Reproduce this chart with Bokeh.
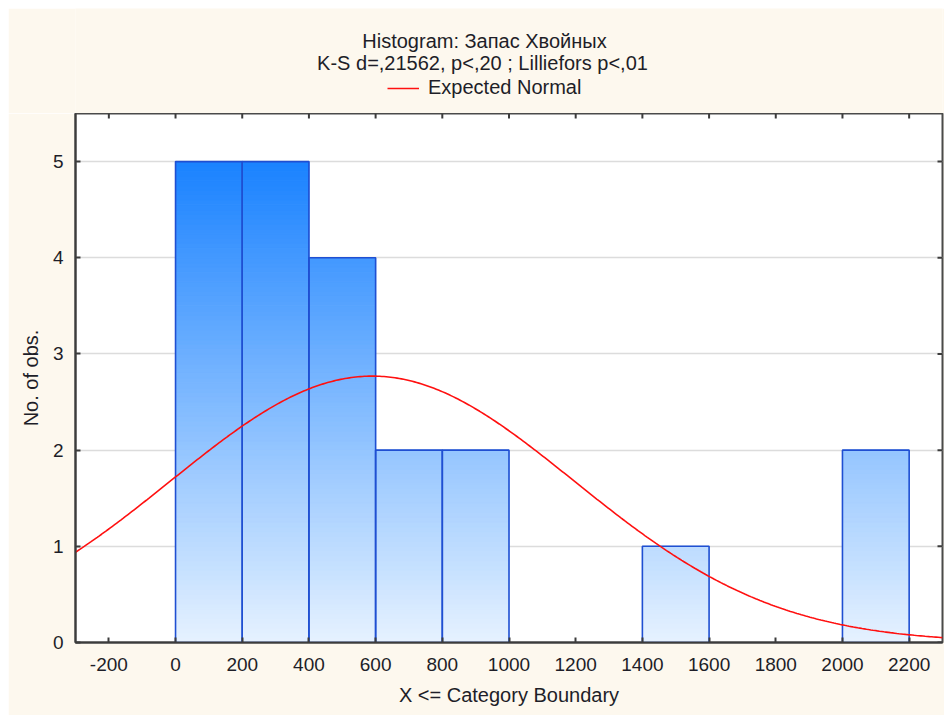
import numpy as np
from bokeh.plotting import figure
from bokeh.layouts import column
from bokeh.models import FixedTicker, Legend, LegendItem, Range1d, Label
from bokeh.embed import file_html
from bokeh.resources import INLINE

# ---------------- data ----------------
bin_left = [0, 200, 400, 600, 800, 1000, 1200, 1400, 1600, 1800, 2000]
bin_right = [200, 400, 600, 800, 1000, 1200, 1400, 1600, 1800, 2000, 2200]
counts = [5, 5, 4, 2, 2, 0, 0, 1, 0, 0, 2]

# Expected normal parameters
norm_mean = 590.0
norm_sd = 605.0
n_obs = 21
bin_width = 200.0

x_min, x_max = -300, 2300
y_min, y_max = 0, 5.5
x_ticks = [-200, 0, 200, 400, 600, 800, 1000, 1200, 1400, 1600, 1800, 2000, 2200]
x_tick_labels = ["-200", "0", "200", "400", "600", "800", "1000", "1200", "1400",
                 "1600", "1800", "2000", "2200"]
y_ticks = [0, 1, 2, 3, 4, 5]

title_1 = "Histogram: Запас Хвойных"
title_2 = "K-S d=,21562, p<,20 ; Lilliefors p<,01"
legend_label = "Expected Normal"
x_label = "X <= Category Boundary"
y_label = "No. of obs."

# ---------------- style ----------------
FONT = "Liberation Sans"
CREAM = "#fdf8ee"
TXT = "#1e1e28"
AXC = "#3c3c3c"
CURVE_COLOR = "#ff1010"
bottom_rgb = np.array([230, 242, 255])
top_rgb = np.array([26, 130, 255])
grad_top_value = 5.0

W, HEAD_H, MAIN_H = 936, 105, 602

# expected normal curve values
xc = np.linspace(x_min, x_max, 400)
yc = n_obs * bin_width / (norm_sd * np.sqrt(2 * np.pi)) * np.exp(-0.5 * ((xc - norm_mean) / norm_sd) ** 2)

# ---------------- header (titles + legend) ----------------
# header frame is aligned with the main frame; x range in page pixels of that frame
head = figure(width=W, height=HEAD_H, output_backend="svg", toolbar_location=None,
              x_range=Range1d(75, 942), y_range=Range1d(0, HEAD_H),
              x_axis_type=None, y_axis_type=None,
              min_border=0, background_fill_color=CREAM, border_fill_color=CREAM,
              outline_line_color=None)
head.grid.visible = False
head.add_layout(Label(x=484, y=73, text=title_1, text_align="center", text_baseline="middle",
                      text_font=FONT, text_font_size="20px", text_color=TXT))
head.add_layout(Label(x=482, y=51, text=title_2, text_align="center", text_baseline="middle",
                      text_font=FONT, text_font_size="20px", text_color=TXT))
proxy = head.line(xc, yc, line_color=CURVE_COLOR, line_width=1.6, visible=False)
head.add_layout(Legend(items=[LegendItem(label=legend_label, renderers=[proxy])],
                       orientation="horizontal", location=(312, 14),
                       border_line_color=None, background_fill_alpha=0,
                       inactive_fill_alpha=0,
                       label_text_font=FONT, label_text_font_size="20px",
                       label_text_color=TXT, glyph_width=32, glyph_height=20,
                       label_standoff=9, padding=0, margin=0), "center")

# ---------------- main histogram ----------------
p = figure(width=W, height=MAIN_H, output_backend="svg", toolbar_location=None,
           x_range=Range1d(x_min, x_max), y_range=Range1d(y_min, y_max),
           min_border_left=67, min_border_right=2, min_border_top=0, min_border_bottom=73,
           background_fill_color="white", border_fill_color=CREAM,
           outline_line_color="#4a4a4a", outline_line_width=2)

# gradient-filled bars: thin horizontal slices
step = 0.05
sl_l, sl_r, sl_b, sl_t, sl_c = [], [], [], [], []
for l, r, c in zip(bin_left, bin_right, counts):
    for yb in np.arange(0, c, step):
        yt = min(yb + step, c)
        f = min((yb + step / 2) / grad_top_value, 1.0)
        rgb = bottom_rgb + (top_rgb - bottom_rgb) * f
        sl_l.append(l); sl_r.append(r); sl_b.append(yb); sl_t.append(yt)
        sl_c.append("#%02x%02x%02x" % tuple(int(round(v)) for v in rgb))
p.quad(left=sl_l, right=sl_r, bottom=sl_b, top=sl_t, fill_color=sl_c,
       line_color=sl_c, line_width=1)

nz = [i for i, c in enumerate(counts) if c > 0]
p.quad(left=[bin_left[i] for i in nz], right=[bin_right[i] for i in nz], bottom=0,
       top=[counts[i] for i in nz], fill_alpha=0, line_color="#1f4fd2", line_width=1.6)

p.line(xc, yc, line_color=CURVE_COLOR, line_width=1.6)

# mirrored inward ticks on top and right edges
p.ray(x=x_ticks, y=y_max, length=5, length_units="screen", angle=-np.pi / 2,
      line_color=AXC, line_width=2)
p.ray(x=x_max, y=y_ticks, length=5, length_units="screen", angle=np.pi,
      line_color=AXC, line_width=2)

# axes
for ax in (p.xaxis[0], p.yaxis[0]):
    ax.major_tick_in = 5
    ax.major_tick_out = 0
    ax.minor_tick_in = 0
    ax.minor_tick_out = 0
    ax.axis_line_color = AXC
    ax.axis_line_width = 2
    ax.major_tick_line_color = AXC
    ax.major_tick_line_width = 2
    ax.major_label_text_font = FONT
    ax.major_label_text_font_size = "19px"
    ax.major_label_text_color = TXT
    ax.axis_label_text_font = FONT
    ax.axis_label_text_font_size = "20px"
    ax.axis_label_text_font_style = "normal"
    ax.axis_label_text_color = TXT

p.xaxis.ticker = FixedTicker(ticks=x_ticks)
p.xaxis.major_label_overrides = {t: s for t, s in zip(x_ticks, x_tick_labels)}
p.xaxis.axis_label = x_label
p.xaxis.major_label_standoff = 15
p.xaxis.axis_label_standoff = 10
p.yaxis.ticker = FixedTicker(ticks=y_ticks)
p.yaxis.axis_label = y_label
p.yaxis.major_label_standoff = 12
p.yaxis.axis_label_standoff = 8

p.xgrid.visible = False
p.ygrid.ticker = FixedTicker(ticks=y_ticks[1:])
p.ygrid.grid_line_color = "#dcdcdc"
p.ygrid.grid_line_width = 1.5

layout = column(head, p, spacing=0)
layout.margin = (8, 0, 0, 8)

html = file_html(layout, INLINE)
html = html.replace("<body>", '<body style="margin:0;background:white;">')
open("out.html", "w").write(html)
